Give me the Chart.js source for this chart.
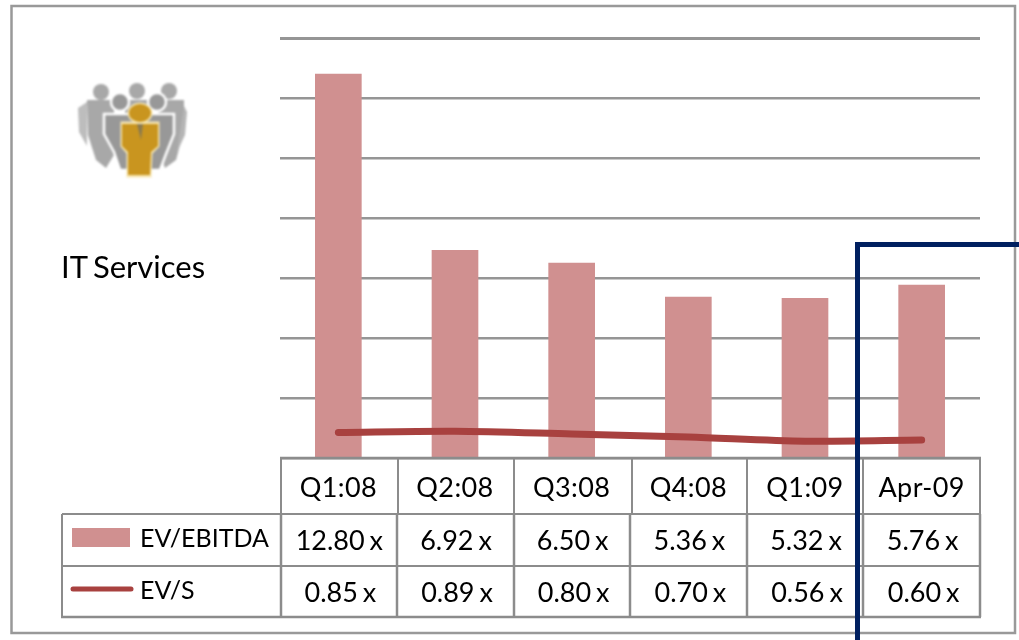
<!DOCTYPE html>
<html>
<head>
<meta charset="utf-8">
<script src="https://cdn.jsdelivr.net/npm/chart.js@4"></script>
<style>
    html, body { margin: 0; padding: 0; background: #fff; }
    #wrap { position: relative; width: 1019px; height: 640px; overflow: hidden; }
    #itChart { position: absolute; left: 0; top: 0; }
    #icon { position: absolute; left: 70px; top: 70px; }
</style>
</head>
<body>
<div id="wrap">
    <canvas id="itChart" width="1019" height="640"></canvas>
    <!-- group of people, one in gold at the front -->
    <svg id="icon" width="125" height="120" viewBox="70 70 125 120">
        <g style="filter: blur(1px)">
            <g fill="#a8a8a8">
                <ellipse cx="101" cy="92" rx="8" ry="8"/>
                <ellipse cx="137" cy="91" rx="8" ry="8"/>
                <ellipse cx="169" cy="91" rx="8" ry="8"/>
                <path d="M87 100 L114 100 L114 155 L106 168 L96 160 L88 135 Z"/>
                <path d="M158 100 L184 100 L184 130 L176 160 L165 168 L158 150 Z"/>
                <path d="M125 100 L150 100 L150 125 L125 125 Z"/>
            </g>
            <path d="M78 108 L87 102 L87 146 L79 132 Z" fill="#bdbdbd"/>
            <path d="M184 106 L187 112 L185 135 L177 152 Z" fill="#b5b5b5"/>
            <g fill="#989898" stroke="#fff" stroke-width="2.5">
                <ellipse cx="120" cy="102" rx="9" ry="9"/>
                <ellipse cx="157" cy="102" rx="9" ry="9"/>
                <path d="M104 114 L136 114 L136 170 L120 170 L114 152 L104 134 Z"/>
                <path d="M144 114 L174 114 L174 134 L166 154 L160 170 L144 170 Z"/>
            </g>
            <g fill="#c9951f" stroke="#f7e6b0" stroke-width="3">
                <path d="M122 123 L158 123 L158 146 L151 153 L150 176 L128 176 L128 153 L122 146 Z"/>
                <ellipse cx="140" cy="113" rx="11" ry="9"/>
            </g>
            <path d="M122 124 L158 124 L158 146 L151 152 L150 175 L128 175 L128 152 L122 146 Z" fill="#c9951f"/>
            <ellipse cx="140" cy="113" rx="11" ry="9" fill="#c9951f"/>
            <path d="M137 124 L143 124 L141 140 Z" fill="#8a7a50"/>
        </g>
    </svg>
</div>
<script>
const categories = ['Q1:08', 'Q2:08', 'Q3:08', 'Q4:08', 'Q1:09', 'Apr-09'];
const evEbitda = [12.80, 6.92, 6.50, 5.36, 5.32, 5.76];
const evSales = [0.85, 0.89, 0.80, 0.70, 0.56, 0.60];

const ebitdaName = 'EV/EBITDA';
const salesName = 'EV/S';
const sectorName = 'IT Services';

const barColor = '#d09090';
const lineColor = '#a8413f';
const gridColor = '#959595';
const navy = '#002060';
const textFont = 'Lato';

// cell edges of the table under the bars
const headerEdges = [281, 398, 514, 632, 747, 863, 980];
const rowEdges = [281, 397, 514, 630, 747, 863, 980];
const rowY = [458, 514, 566, 617];
const tableLeft = 62;

function line(ctx, x1, y1, x2, y2, color, width) {
    ctx.strokeStyle = color;
    ctx.lineWidth = width;
    ctx.beginPath();
    ctx.moveTo(x1, y1);
    ctx.lineTo(x2, y2);
    ctx.stroke();
}

const pagePlugin = {
    id: 'pagePlugin',
    beforeDraw(chart) {
        const ctx = chart.ctx;
        ctx.save();
        ctx.fillStyle = '#fff';
        ctx.fillRect(0, 0, 1019, 640);
        // outer frame
        ctx.strokeStyle = '#999';
        ctx.lineWidth = 2.5;
        ctx.strokeRect(11.5, 6, 1003.5, 627);
        ctx.restore();
    },
    afterDraw(chart) {
        const ctx = chart.ctx;
        const x = chart.scales.x;
        ctx.save();

        // table rules
        const c = '#8c8c8c';
        line(ctx, 280, rowY[0], 981, rowY[0], c, 2.5);
        line(ctx, tableLeft, rowY[1], 981, rowY[1], c, 2);
        line(ctx, tableLeft, rowY[2], 981, rowY[2], c, 2);
        line(ctx, tableLeft - 1, rowY[3], 981, rowY[3], c, 2.5);
        line(ctx, tableLeft, rowY[1], tableLeft, rowY[3], c, 2);
        headerEdges.forEach(e => line(ctx, e, rowY[0], e, rowY[1], c, 2));
        rowEdges.forEach(e => line(ctx, e, rowY[1], e, rowY[3], c, 2.5));

        // table text
        ctx.fillStyle = '#000';
        ctx.textBaseline = 'middle';
        ctx.textAlign = 'center';
        ctx.font = '27px ' + textFont;
        categories.forEach((cat, i) => {
            const cx = x.getPixelForValue(i);
            ctx.letterSpacing = '0.4px';
            ctx.fillText(cat, cx, 488);
            ctx.letterSpacing = '0px';
            ctx.wordSpacing = '-2px';
            ctx.fillText(evEbitda[i].toFixed(2) + ' x', cx + 1, 541);
            ctx.fillText(evSales[i].toFixed(2) + ' x', cx + 2, 593);
            ctx.wordSpacing = '0px';
        });

        // row keys
        ctx.font = '25px ' + textFont;
        ctx.textAlign = 'left';
        ctx.fillText(ebitdaName, 140, 539);
        ctx.fillText(salesName, 140, 591);
        ctx.fillStyle = barColor;
        ctx.fillRect(72, 528, 58, 19);
        ctx.lineCap = 'round';
        line(ctx, 73, 589, 131, 589, lineColor, 5);
        ctx.lineCap = 'butt';

        // sector name
        ctx.fillStyle = '#000';
        ctx.font = '31px ' + textFont;
        ctx.wordSpacing = '-3px';
        ctx.fillText(sectorName, 61, 268);
        ctx.wordSpacing = '0px';

        // current period marker
        ctx.lineJoin = 'miter';
        ctx.strokeStyle = navy;
        ctx.lineWidth = 5;
        ctx.beginPath();
        ctx.moveTo(857.5, 640);
        ctx.lineTo(857.5, 244.5);
        ctx.lineTo(1019, 244.5);
        ctx.stroke();
        ctx.restore();
    }
};

new Chart(document.getElementById('itChart'), {
    type: 'bar',
    data: {
        labels: categories,
        datasets: [
            {
                type: 'line',
                label: salesName,
                data: evSales,
                borderColor: lineColor,
                borderWidth: 7,
                borderCapStyle: 'round',
                pointRadius: 0,
                tension: 0.3,
                order: 1
            },
            {
                label: ebitdaName,
                data: evEbitda,
                backgroundColor: barColor,
                barThickness: 46,
                order: 2
            }
        ]
    },
    options: {
        responsive: false,
        animation: false,
        layout: { padding: { left: 280, top: 38, right: 39, bottom: 182 } },
        plugins: { legend: { display: false }, tooltip: { enabled: false } },
        scales: {
            x: {
                afterFit(axis) { axis.height = 0; },
                grid: { display: false },
                border: { display: false },
                ticks: { display: false }
            },
            y: {
                min: 0,
                max: 14,
                afterFit(axis) { axis.width = 0; },
                grid: {
                    color: gridColor,
                    lineWidth: ctx => ctx.tick.value === 14 ? 3 : 2.5,
                    drawTicks: false
                },
                border: { display: false },
                ticks: { display: false, stepSize: 2 }
            }
        }
    },
    plugins: [pagePlugin]
});
</script>
</body>
</html>
